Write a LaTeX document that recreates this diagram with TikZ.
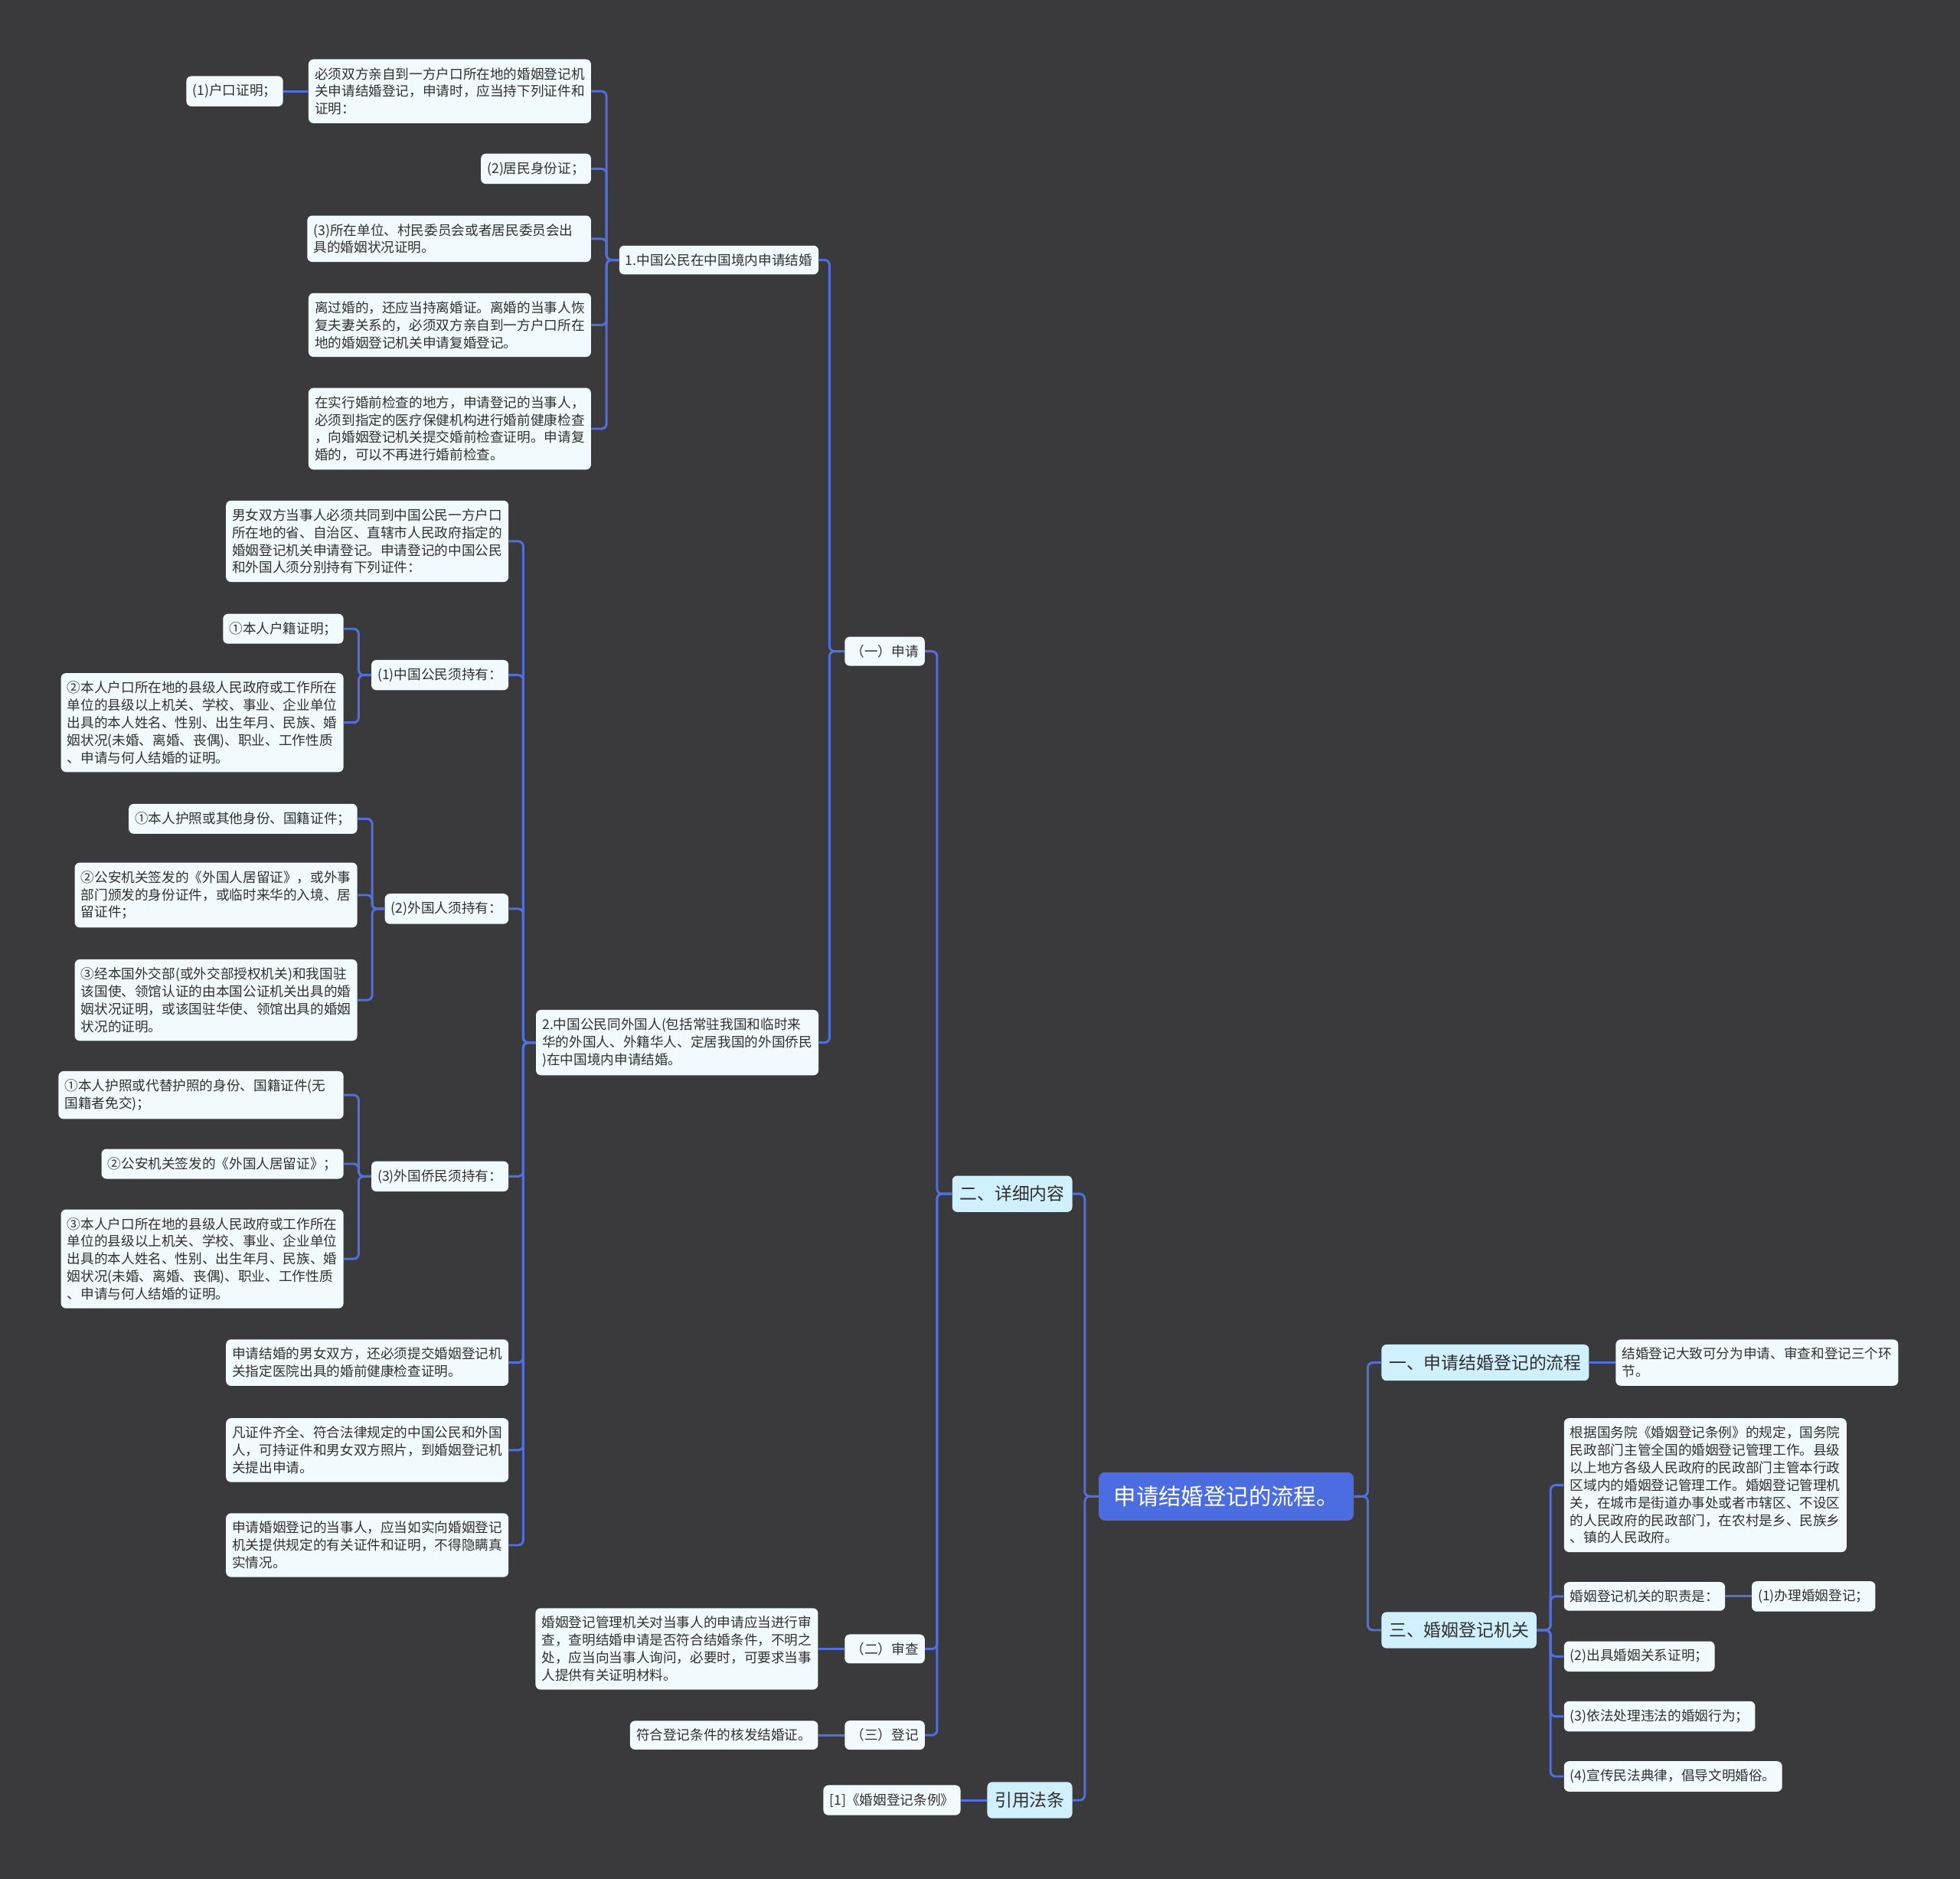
\documentclass[tikz,border=0pt]{standalone}
\usepackage{fontspec}
\usepackage{xcolor}
\usepackage{tikz}
\usetikzlibrary{positioning}
\newfontfamily\cjk{Noto Sans CJK SC}
\definecolor{cBack}{HTML}{3A393B}
\definecolor{cLink}{HTML}{5270DC}
\definecolor{cRoot}{HTML}{4B6DE1}
\definecolor{cMain}{HTML}{CFF0FC}
\definecolor{cLeaf}{HTML}{F1FBFD}
\definecolor{cText}{HTML}{303030}
\tikzset{
  leaf/.style ={rectangle, rounded corners=4pt, fill=cLeaf, text=cText, align=left,
                font=\cjk\fontsize{10.8}{14}\selectfont, inner xsep=5pt, inner ysep=6.5pt},
  main/.style ={rectangle, rounded corners=4pt, fill=cMain, text=cText,
                font=\cjk\fontsize{14}{17}\selectfont, inner xsep=6pt, inner ysep=8pt},
  root/.style ={rectangle, rounded corners=5pt, fill=cRoot, text=white,
                font=\cjk\fontsize{18}{22}\selectfont, inner xsep=12pt, inner ysep=11pt},
  link/.style ={draw=cLink, line width=1.8pt, rounded corners=4pt},
}

\begin{document}
\begin{tikzpicture}[x=1pt,y=-1pt]
  \fill[cBack] (0,0) rectangle (1568,1503);

  \node[root] (root) at (981,1197) {申请结婚登记的流程。};
  \node[main,anchor=east] (detail) at (858,955)  {二、详细内容};
  \node[main,anchor=east] (law)    at (858,1440) {引用法条};
  \node[main,anchor=west] (flow)   at (1105,1090) {一、申请结婚登记的流程};
  \node[main,anchor=west] (organ)  at (1105,1304) {三、婚姻登记机关};

  \node[leaf,anchor=east] (apply)  at (740,521)  {（一）申请};
  \node[leaf,anchor=east] (review) at (740,1319) {（二）审查};
  \node[leaf,anchor=east] (regist) at (740,1388) {（三）登记};
  \node[leaf,left=21pt of review] (reviewTxt) {婚姻登记管理机关对当事人的申请应当进行审\\查，查明结婚申请是否符合结婚条件，不明之\\处，应当向当事人询问，必要时，可要求当事\\人提供有关证明材料。};
  \node[leaf,left=21pt of regist] (registTxt) {符合登记条件的核发结婚证。};
  \node[leaf,left=21pt of law] (lawTxt) {[1]《婚姻登记条例》};

  \node[leaf,anchor=east] (dom)  at (655,208) {1.中国公民在中国境内申请结婚};
  \node[leaf,anchor=east] (intl) at (655,834) {2.中国公民同外国人(包括常驻我国和临时来\\华的外国人、外籍华人、定居我国的外国侨民\\)在中国境内申请结婚。};

  \node[leaf,anchor=east] (domA) at (473,73)  {必须双方亲自到一方户口所在地的婚姻登记机\\关申请结婚登记，申请时，应当持下列证件和\\证明：};
  \node[leaf,left=20pt of domA] (domA1) {(1)户口证明；};
  \node[leaf,anchor=east] (domB) at (473,135) {(2)居民身份证；};
  \node[leaf,anchor=east,text width=217pt] (domC) at (473,191) {(3)所在单位、村民委员会或者居民委员会出\\具的婚姻状况证明。};
  \node[leaf,anchor=east] (domD) at (473,260) {离过婚的，还应当持离婚证。离婚的当事人恢\\复夫妻关系的，必须双方亲自到一方户口所在\\地的婚姻登记机关申请复婚登记。};
  \node[leaf,anchor=east] (domE) at (473,343) {在实行婚前检查的地方，申请登记的当事人，\\必须到指定的医疗保健机构进行婚前健康检查\\，向婚姻登记机关提交婚前检查证明。申请复\\婚的，可以不再进行婚前检查。};

  \node[leaf,anchor=east] (intlA) at (407,433)  {男女双方当事人必须共同到中国公民一方户口\\所在地的省、自治区、直辖市人民政府指定的\\婚姻登记机关申请登记。申请登记的中国公民\\和外国人须分别持有下列证件：};
  \node[leaf,anchor=east] (cn)    at (407,540)  {(1)中国公民须持有：};
  \node[leaf,anchor=east] (fr)    at (407,727)  {(2)外国人须持有：};
  \node[leaf,anchor=east] (ov)    at (407,941)  {(3)外国侨民须持有：};
  \node[leaf,anchor=east] (intlB) at (407,1090) {申请结婚的男女双方，还必须提交婚姻登记机\\关指定医院出具的婚前健康检查证明。};
  \node[leaf,anchor=east] (intlC) at (407,1160) {凡证件齐全、符合法律规定的中国公民和外国\\人，可持证件和男女双方照片，到婚姻登记机\\关提出申请。};
  \node[leaf,anchor=east] (intlD) at (407,1236) {申请婚姻登记的当事人，应当如实向婚姻登记\\机关提供规定的有关证件和证明，不得隐瞒真\\实情况。};

  \node[leaf,anchor=east] (cn1) at (275,503) {①本人户籍证明；};
  \node[leaf,anchor=east] (cn2) at (275,578) {②本人户口所在地的县级人民政府或工作所在\\单位的县级以上机关、学校、事业、企业单位\\出具的本人姓名、性别、出生年月、民族、婚\\姻状况(未婚、离婚、丧偶)、职业、工作性质\\、申请与何人结婚的证明。};
  \node[leaf,anchor=east] (fr1) at (286,655) {①本人护照或其他身份、国籍证件；};
  \node[leaf,anchor=east] (fr2) at (286,716) {②公安机关签发的《外国人居留证》，或外事\\部门颁发的身份证件，或临时来华的入境、居\\留证件；};
  \node[leaf,anchor=east] (fr3) at (286,800) {③经本国外交部(或外交部授权机关)和我国驻\\该国使、领馆认证的由本国公证机关出具的婚\\姻状况证明，或该国驻华使、领馆出具的婚姻\\状况的证明。};
  \node[leaf,anchor=east,text width=218pt] (ov1) at (275,876) {①本人护照或代替护照的身份、国籍证件(无\\国籍者免交)；};
  \node[leaf,anchor=east] (ov2) at (275,931)  {②公安机关签发的《外国人居留证》；};
  \node[leaf,anchor=east] (ov3) at (275,1007) {③本人户口所在地的县级人民政府或工作所在\\单位的县级以上机关、学校、事业、企业单位\\出具的本人姓名、性别、出生年月、民族、婚\\姻状况(未婚、离婚、丧偶)、职业、工作性质\\、申请与何人结婚的证明。};

  \node[leaf,right=21pt of flow] (flowTxt) {结婚登记大致可分为申请、审查和登记三个环\\节。};
  \node[leaf,anchor=west] (org1)  at (1251,1188) {根据国务院《婚姻登记条例》的规定，国务院\\民政部门主管全国的婚姻登记管理工作。县级\\以上地方各级人民政府的民政部门主管本行政\\区域内的婚姻登记管理工作。婚姻登记管理机\\关，在城市是街道办事处或者市辖区、不设区\\的人民政府的民政部门，在农村是乡、民族乡\\、镇的人民政府。};
  \node[leaf,anchor=west] (duty)  at (1251,1277) {婚姻登记机关的职责是：};
  \node[leaf,right=21pt of duty] (duty1) {(1)办理婚姻登记；};
  \node[leaf,anchor=west] (duty2) at (1251,1325) {(2)出具婚姻关系证明；};
  \node[leaf,anchor=west] (duty3) at (1251,1373) {(3)依法处理违法的婚姻行为；};
  \node[leaf,anchor=west] (duty4) at (1251,1421) {(4)宣传民法典律，倡导文明婚俗。};

  \draw[link] (root.west) -- ++(-11,0) |- (detail.east); \draw[link] (root.west) -- ++(-11,0) |- (law.east);
  \draw[link] (root.east) -- ++(11,0) |- (flow.west); \draw[link] (root.east) -- ++(11,0) |- (organ.west);
  \draw[link] (detail.west) -- ++(-12,0) |- (apply.east); \draw[link] (detail.west) -- ++(-12,0) |- (review.east);
  \draw[link] (detail.west) -- ++(-12,0) |- (regist.east);
  \draw[link] (review.west) -- (reviewTxt.east); \draw[link] (regist.west) -- (registTxt.east);
  \draw[link] (law.west) -- (lawTxt.east);
  \draw[link] (apply.west) -- ++(-12,0) |- (dom.east); \draw[link] (apply.west) -- ++(-12,0) |- (intl.east);
  \draw[link] (dom.west) -- ++(-10,0) |- (domA.east); \draw[link] (dom.west) -- ++(-10,0) |- (domB.east);
  \draw[link] (dom.west) -- ++(-10,0) |- (domC.east); \draw[link] (dom.west) -- ++(-10,0) |- (domD.east);
  \draw[link] (dom.west) -- ++(-10,0) |- (domE.east); \draw[link] (domA.west) -- (domA1.east);
  \draw[link] (intl.west) -- ++(-10,0) |- (intlA.east); \draw[link] (intl.west) -- ++(-10,0) |- (cn.east);
  \draw[link] (intl.west) -- ++(-10,0) |- (fr.east); \draw[link] (intl.west) -- ++(-10,0) |- (ov.east);
  \draw[link] (intl.west) -- ++(-10,0) |- (intlB.east); \draw[link] (intl.west) -- ++(-10,0) |- (intlC.east);
  \draw[link] (intl.west) -- ++(-10,0) |- (intlD.east);
  \draw[link] (cn.west) -- ++(-10,0) |- (cn1.east); \draw[link] (cn.west) -- ++(-10,0) |- (cn2.east);
  \draw[link] (fr.west) -- ++(-10,0) |- (fr1.east); \draw[link] (fr.west) -- ++(-10,0) |- (fr2.east);
  \draw[link] (fr.west) -- ++(-10,0) |- (fr3.east);
  \draw[link] (ov.west) -- ++(-10,0) |- (ov1.east); \draw[link] (ov.west) -- ++(-10,0) |- (ov2.east);
  \draw[link] (ov.west) -- ++(-10,0) |- (ov3.east);
  \draw[link] (flow.east) -- (flowTxt.west);
  \draw[link] (organ.east) -- ++(11,0) |- (org1.west); \draw[link] (organ.east) -- ++(11,0) |- (duty.west);
  \draw[link] (organ.east) -- ++(11,0) |- (duty2.west); \draw[link] (organ.east) -- ++(11,0) |- (duty3.west);
  \draw[link] (organ.east) -- ++(11,0) |- (duty4.west); \draw[link] (duty.east) -- (duty1.west);
\end{tikzpicture}
\end{document}
